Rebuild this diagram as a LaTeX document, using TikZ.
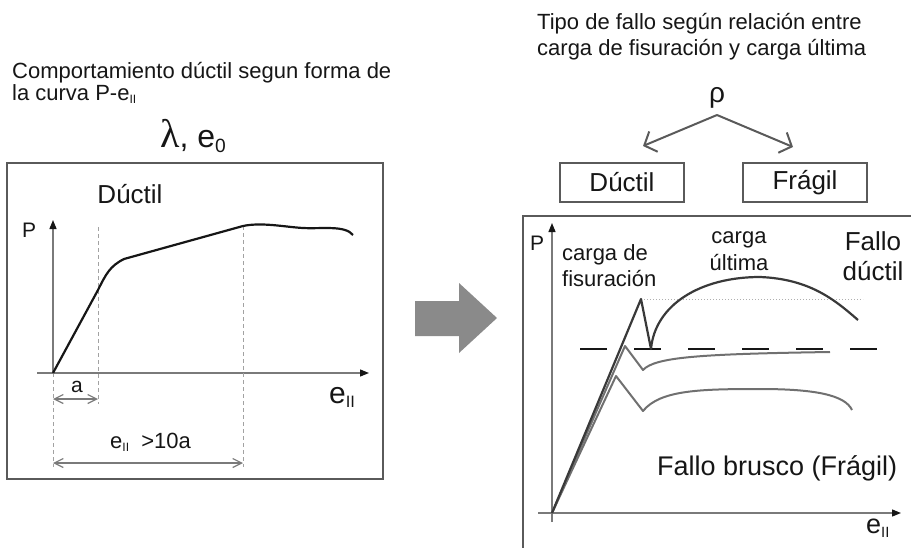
\documentclass[tikz,border=0pt]{standalone}
\usepackage{fontspec}
\setmainfont{Liberation Sans}
\newfontfamily\greekserif{Liberation Serif}
\usetikzlibrary{positioning,arrows.meta}
\definecolor{ink}{HTML}{161616}
\definecolor{frame}{HTML}{5A5A5A}
\definecolor{axisgray}{HTML}{7A7A7A}
\definecolor{curvegray}{HTML}{707070}
\definecolor{arrowgray}{HTML}{8A8A8A}
\newcommand{\eii}{e\raisebox{-0.3ex}{\scalebox{0.55}{II}}}
\tikzset{
  figtext/.style={inner sep=0pt, text=ink, font=\fontsize{22}{26}\selectfont},
  figbig/.style={inner sep=0pt, text=ink, font=\fontsize{26}{30}\selectfont},
  figsmall/.style={inner sep=0pt, text=ink, font=\fontsize{21}{24}\selectfont},
  figbox/.style={draw=frame, line width=1.8pt, inner sep=0pt, minimum width=124pt,
    minimum height=39pt, text=ink, font=\fontsize{26}{30}\selectfont},
  figframe/.style={draw=frame, line width=2pt},
  figaxis/.style={draw=axisgray, line width=1.3pt, -{Triangle[length=9pt,width=7pt,color=ink]}},
  figguide/.style={draw=axisgray!70, line width=1pt, dash pattern=on 4pt off 3pt},
  figspan/.style={draw=axisgray, line width=1.2pt,
    {Straight Barb[length=9pt,width=9pt]}-{Straight Barb[length=9pt,width=9pt]}},
  figcurve/.style={draw=ink, line width=2.2pt, line join=round},
  figsplit/.style={draw=frame, line width=2pt, -{Straight Barb[length=10pt,width=22pt]}},
}

\begin{document}
\begin{tikzpicture}[x=1pt, y=-1pt]
  \useasboundingbox (0,0) rectangle (911,547);
  \clip (0,0) rectangle (911,547);
  % izquierda: comportamiento ductil
  \node[figtext, anchor=base west] (tituloA1) at (12,78) {Comportamiento dúctil segun forma de};
  \node[figtext, anchor=base west] (tituloA2) at (12,100) {la curva P-\eii};
  \node[inner sep=0pt, text=ink, font=\fontsize{32}{36}\selectfont, anchor=base] (lambda) at (193,147)
    {{\greekserif\fontsize{40}{44}\selectfont λ}, e\raisebox{-5pt}{\scalebox{0.6}{0}}};
  \draw[figframe] (7,163) rectangle (383,479);
  \node[figbig, anchor=base] (ductilA) at (130,203) {Dúctil};
  \coordinate (oA) at (53,373);
  \coordinate (yA) at (53,220);
  \coordinate (xA0) at (37,373);
  \coordinate (xA) at (369,373);
  \draw[figaxis] (xA0) -- (xA);
  \draw[figaxis] (oA) -- (yA);
  \node[figsmall, anchor=base west] (pA) at (22,237) {P};
  \node[inner sep=0pt, text=ink, font=\fontsize{30}{34}\selectfont, anchor=base west] (eA) at (329,403) {\eii};
  % guias
  \coordinate (kA) at (98,290);
  \coordinate (uA) at (243,226);
  \draw[figguide] (oA) -- (53,467);
  \draw[figguide] (98,227) -- (98,404);
  \draw[figguide] (uA) -- (243,467);
  \draw[figspan] (53,399) -- (98,399);
  \node[figsmall, anchor=base] (aA) at (77,392) {a};
  \draw[figspan] (53,463) -- (243,463);
  \node[figtext, anchor=base west] (diezA) at (110,448) {\eii\ \ >10a};
  \draw[figcurve] (oA) -- (kA) .. controls (106,274) and (110,266) .. (124,259)
    -- (uA) .. controls (262,222) and (285,227) .. (303,228)
    .. controls (322,229) and (345,225) .. (353,235);
  % flecha central
  \fill[arrowgray] (415,301) -- (459,301) -- (459,283) -- (497,318) -- (459,353)
    -- (459,336) -- (415,336) -- cycle;
  % derecha: tipo de fallo
  \node[figtext, anchor=base west] (tituloB1) at (537,29) {Tipo de fallo según relación entre};
  \node[figtext, anchor=base west] (tituloB2) at (537,55) {carga de fisuración y carga última};
  \node[inner sep=0pt, text=ink, font=\fontsize{28}{30}\selectfont, anchor=base] (rho) at (717,102) {ρ};
  \coordinate (split) at (717,115);
  \coordinate (toD) at (643,146);
  \coordinate (toF) at (793,147);
  \draw[figsplit] (split) -- (toD);
  \draw[figsplit] (split) -- (toF);
  \node[figbox] (dbox) at (622,182.5) {Dúctil};
  \node[figbox] (fbox) at (805,182.5) {Frágil};
  \draw[figframe] (523,560) -- (523,216) -- (920,216);
  \coordinate (oB) at (552,513);
  \coordinate (yB) at (552,223);
  \coordinate (xB0) at (538,513);
  \coordinate (xB) at (901,513);
  \draw[figaxis] (xB0) -- (xB);
  \draw[figaxis] (552,522) -- (yB);
  \node[figsmall, anchor=base west] (pB) at (530,250) {P};
  \node[inner sep=0pt, text=ink, font=\fontsize{27}{30}\selectfont, anchor=base west] (eB) at (866,533) {\eii};
  % niveles
  \coordinate (fis) at (641,299);
  \coordinate (fisEnd) at (863,299);
  \coordinate (ultA) at (580,349);
  \coordinate (ultB) at (880,349);
  \draw[draw=axisgray!60, line width=1pt, dash pattern=on 1pt off 2pt] (fis) -- (fisEnd);
  \draw[draw=ink, line width=2.5pt, dash pattern=on 27pt off 27pt] (ultA) -- (ultB);
  % curvas
  \draw[figcurve, curvegray, line width=2pt] (oB) -- (616,376) -- (643,411)
    .. controls (660,390) and (700,389) .. (760,389)
    .. controls (815,389) and (845,395) .. (852,410);
  \draw[figcurve, curvegray, line width=2pt] (oB) -- (625,346) -- (643,370)
    .. controls (655,357) and (700,354) .. (830,352);
  \draw[figcurve, draw=ink!85, line width=2.2pt] (oB) -- (fis) -- (651,349)
    .. controls (655,305) and (700,277) .. (760,277)
    .. controls (810,279) and (835,300) .. (858,320);
  % textos
  \node[figtext, anchor=base west] (fisA) at (562,260) {carga de};
  \node[figtext, anchor=base west] (fisB) at (562,286) {fisuración};
  \node[figtext, anchor=base] (ultC) at (739,243) {carga};
  \node[figtext, anchor=base] (ultD) at (739,270) {última};
  \node[figbig, anchor=base] (falloA) at (873,250) {Fallo};
  \node[figbig, anchor=base] (falloB) at (873,280) {dúctil};
  \node[inner sep=0pt, text=ink, font=\fontsize{27}{30}\selectfont, anchor=base west] (brusco) at (657,475) {Fallo brusco (Frágil)};
\end{tikzpicture}
\end{document}
